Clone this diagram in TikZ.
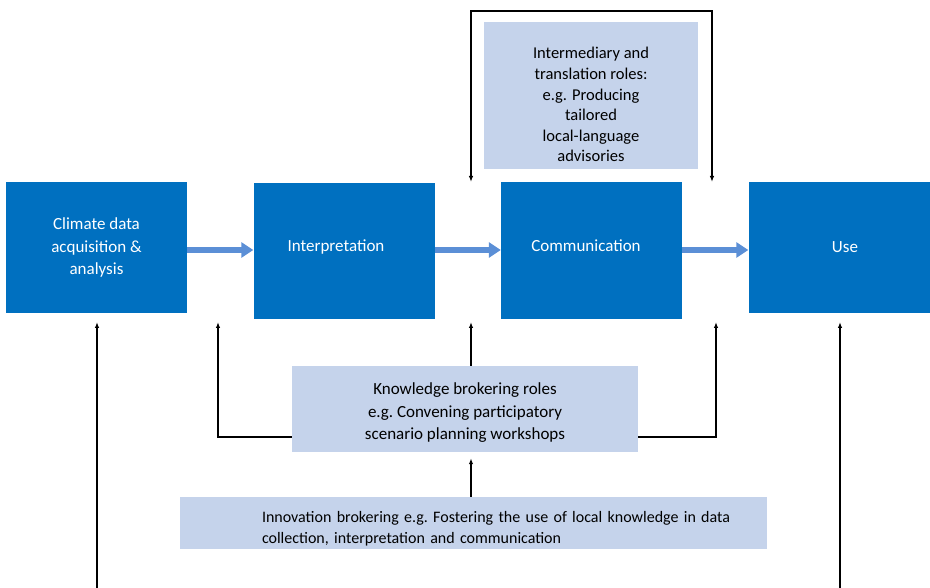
\documentclass[tikz,border=0pt]{standalone}
\usepackage{fontspec}
\setmainfont{Carlito}
\usetikzlibrary{
	arrows.meta
}
\definecolor{stageblue}{HTML}{0070C0}
\definecolor{rolefill}{HTML}{C5D3EB}
\definecolor{flowblue}{HTML}{5B8FD6}
\tikzset{
	every node/.append style={
		font=\fontsize{17}{22.5}\selectfont\frenchspacing
	},
	stage/.style={
		fill=stageblue,
		text=white,
		align=center,
		inner sep=0pt,
		minimum width=181pt,
		minimum height=131pt
	},
	role/.style={
		fill=rolefill,
		align=center,
		inner sep=0pt
	},
	flow/.style={
		draw=flowblue,
		line width=6pt,
		-{Triangle[length=12pt,width=15pt]}
	},
	link/.style={
		line width=1.3pt
	},
	>={Latex[length=6pt,width=4.5pt]}
}

\begin{document}
\begin{tikzpicture}[x=1pt,y=-1pt]
	\useasboundingbox (0,0) rectangle (930,588);
	\draw
		node [stage] at (96.5,247.5)                       (clim)   {Climate data\\acquisition \&\\analysis}
		node [stage,minimum height=136pt] at (344,251)     (interp) {Interpretation\rule[-11pt]{0pt}{11pt}\hspace*{16pt}}
		node [stage,minimum height=137pt] at (591.5,250.5) (comm)   {Communication\rule[-10pt]{0pt}{10pt}\hspace*{11pt}}
		node [stage] at (839,247.5)                        (use)    {\hspace*{12pt}Use}

		node [role,minimum width=214pt,minimum height=147pt,font=\fontsize{16.5}{20.6}\selectfont] at (591,95.5) (interm)
			{\rule{0pt}{30pt}Intermediary and\\translation roles:\\e.g. Producing\\tailored\\local-language\\advisories}
		node [role,minimum width=346pt,minimum height=86pt] at (465,409) (knowl)
			{\rule{0pt}{19pt}Knowledge brokering roles\\e.g. Convening participatory\\scenario planning workshops}
		node [role,minimum width=587pt,minimum height=52pt,text width=587pt,align=left,font=\fontsize{16}{21}\selectfont\frenchspacing] at (473.5,523) (innov)
			{\hspace*{82pt}\rule{0pt}{23pt}Innovation brokering e.g. Fostering the use of local knowledge in data\\\hspace*{82pt}collection, interpretation and communication}
	;

	\coordinate (flowy) at (0,250);
	\coordinate (fbl)   at (471,182);
	\coordinate (fbr)   at (712,182);
	\coordinate (fbtop) at (0,11);
	\coordinate (kbend) at (0,437);
	\coordinate (kl)    at (218,322);
	\coordinate (kc)    at (471,322);
	\coordinate (kr)    at (716,322);
	\coordinate (ll)    at (97,322);
	\coordinate (lr)    at (840,322);
	\coordinate (llb)   at (97,588);
	\coordinate (lrb)   at (840,588);

	\draw[flow] (clim.east |- flowy)   -- (interp.west |- flowy);
	\draw[flow] (interp.east |- flowy) -- (comm.west |- flowy);
	\draw[flow] (comm.east |- flowy)   -- (use.west |- flowy);

	\draw[link,<->] (fbl) -- (fbl |- fbtop) -- (fbr |- fbtop) -- (fbr);
	\draw[link,->] (knowl.west |- kbend) -| (kl);
	\draw[link,->] (knowl.east |- kbend) -| (kr);
	\draw[link,->] (kc |- knowl.north) -- (kc);
	\draw[link,->,shorten >=6pt] (kc |- innov.north) -- (kc |- knowl.south);
	\draw[link,->] (llb) -- (ll);
	\draw[link,->] (lrb) -- (lr);
\end{tikzpicture}
\end{document}
